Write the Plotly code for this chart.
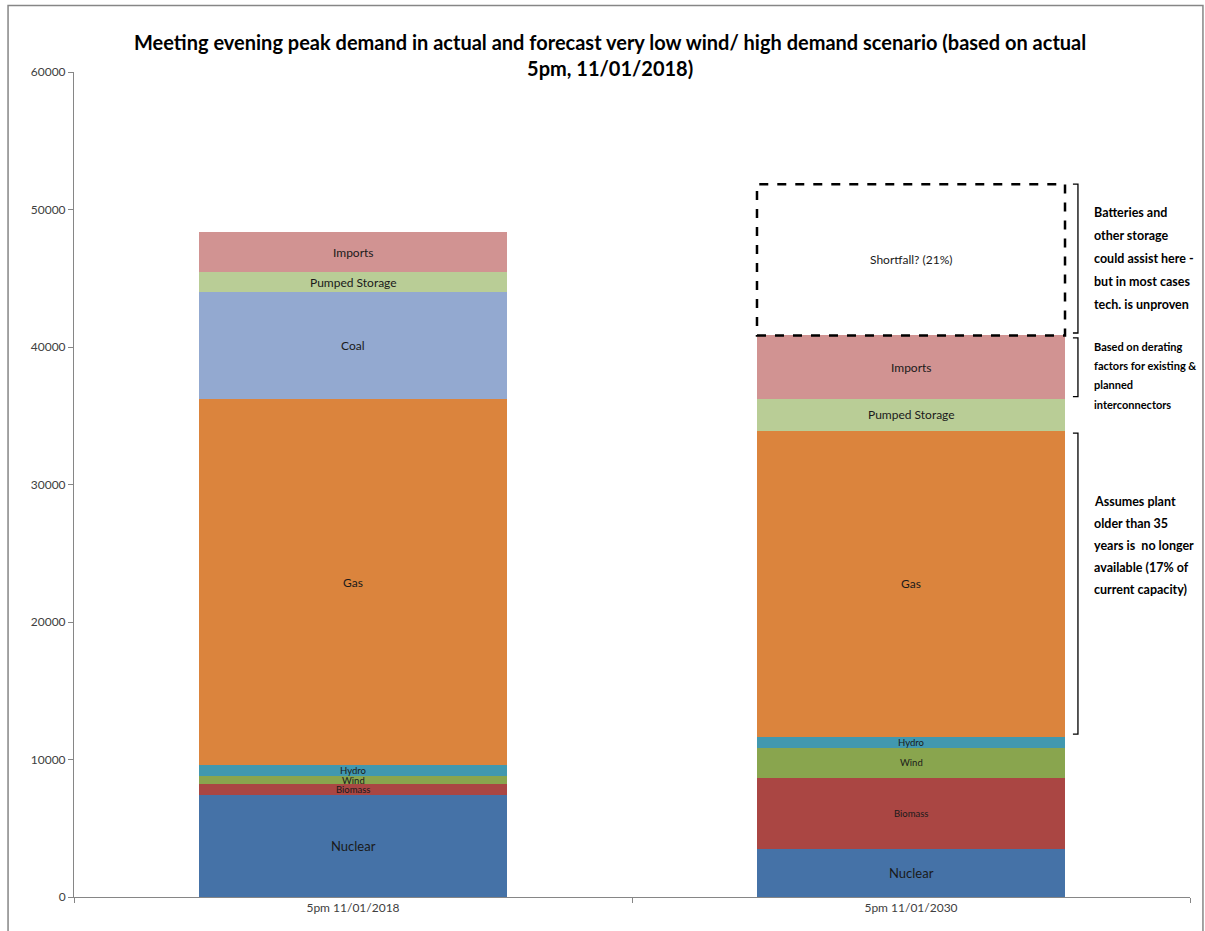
import plotly.graph_objects as go

# Peak-demand generation mix, MW
categories = ["5pm 11/01/2018", "5pm 11/01/2030"]
nuclear = [7400, 3470]
biomass = [800, 5190]
wind = [600, 2200]
hydro = [800, 800]
gas = [26600, 22250]
coal = [7800, 0]
pumped_storage = [1450, 2300]
imports = [2900, 4630]
shortfall = [0, 11000]

series = [
    ("Nuclear", nuclear, "#4572A7", 13),
    ("Biomass", biomass, "#AA4643", 9.5),
    ("Wind", wind, "#89A54E", 9.5),
    ("Hydro", hydro, "#4198AF", 9.5),
    ("Gas", gas, "#DB843D", 12),
    ("Coal", coal, "#93A9D0", 12),
    ("Pumped Storage", pumped_storage, "#B9CD96", 12),
    ("Imports", imports, "#D19392", 12),
    ("Shortfall? (21%)", shortfall, "rgba(255,255,255,0)", 12),
]

FONT = "Lato, DejaVu Sans Condensed, sans-serif"
BARGAP = 0.448
Y_MAX = 60000
PLOT_H = 825  # plot-area height in px, used to space note lines

fig = go.Figure()
annotations = []
base = [0.0] * len(categories)
seg_bounds = {}
for name, vals, color, fsize in series:
    fig.add_trace(go.Bar(
        x=categories, y=vals, name=name,
        marker=dict(color=color, line=dict(width=0)),
        hoverinfo="skip",
    ))
    for i, v in enumerate(vals):
        if v > 0:
            annotations.append(dict(
                x=categories[i], y=base[i] + v / 2, xref="x", yref="y",
                text=name, showarrow=False,
                font=dict(family=FONT, size=fsize, color="#1a1a1a"),
            ))
        seg_bounds[(name, i)] = (base[i], base[i] + v)
        base[i] += v

# Dashed outline around the 2030 shortfall segment
half = (1 - BARGAP) / 2
s0, s1 = seg_bounds[("Shortfall? (21%)", 1)]
shapes = [dict(type="rect", xref="x", yref="y", x0=1 - half, x1=1 + half,
               y0=s0, y1=s1, line=dict(color="black", width=2.5, dash="dash"),
               fillcolor="rgba(0,0,0,0)")]

# Right-hand brackets with explanatory notes
bx, tick = 0.8996, 0.0045
inset = 180
for seg in ["Shortfall? (21%)", "Imports", "Gas"]:
    lo, hi = seg_bounds[(seg, 1)]
    lo += inset
    hi -= inset if seg != "Shortfall? (21%)" else 0
    shapes.append(dict(
        type="path", xref="paper", yref="y",
        path=f"M {bx - tick},{hi} L {bx},{hi} L {bx},{lo} L {bx - tick},{lo}",
        line=dict(color="black", width=1.3),
    ))

notes = [
    (["Batteries and", "other storage", "could assist here -", "but in most cases", "tech. is unproven"],
     46470, 23, 12.5),
    (["Based on derating", "factors for existing &", "planned", "interconnectors"],
     37960, 19.3, 11),
    (["Assumes plant", "older than 35", "years is  no longer", "available (17% of", "current capacity)"],
     25600, 22, 12.5),
]
for lines, center, gap_px, fs in notes:
    step = gap_px / PLOT_H * Y_MAX
    n = len(lines)
    for k, line in enumerate(lines):
        annotations.append(dict(
            x=0.9122, y=center + ((n - 1) / 2 - k) * step, xref="paper", yref="y",
            xanchor="left", yanchor="middle", align="left",
            text=f"<b>{line}</b>", showarrow=False,
            font=dict(family=FONT, size=fs, color="black"),
        ))

annotations.append(dict(
    x=0.4803, y=1.0206, xref="paper", yref="paper", xanchor="center", yanchor="middle",
    text="<b>Meeting evening peak demand in actual and forecast very low wind/ high demand scenario (based on actual<br>5pm, 11/01/2018)</b>",
    showarrow=False, font=dict(family=FONT, size=20, color="black"),
))

# Outer chart frame
shapes.append(dict(type="rect", xref="paper", yref="paper",
                   x0=-0.0591, x1=1.0116, y0=-0.05, y1=1.0806,
                   line=dict(color="#868686", width=1.5), layer="below"))

fig.update_layout(
    barmode="stack", bargap=BARGAP,
    width=1205, height=931,
    margin=dict(l=74, r=15, t=72, b=34),
    paper_bgcolor="white", plot_bgcolor="white",
    showlegend=False, hovermode=False,
    annotations=annotations, shapes=shapes,
    font=dict(family=FONT, color="#404040"),
    xaxis=dict(
        type="category", range=[-0.5, 1.5],
        showline=True, linecolor="#868686", linewidth=1,
        ticks="outside", tickson="boundaries", ticklen=5, tickcolor="#868686",
        tickfont=dict(family=FONT, size=12, color="#404040"),
        showgrid=False, zeroline=False,
    ),
    yaxis=dict(
        range=[0, Y_MAX], tickvals=[0, 10000, 20000, 30000, 40000, 50000, 60000],
        ticktext=["0", "10000", "20000", "30000", "40000", "50000", "60000"],
        showline=True, linecolor="#868686", linewidth=1,
        ticks="outside", ticklen=5, tickcolor="#868686",
        tickfont=dict(family=FONT, size=12, color="#404040"),
        showgrid=False, zeroline=False,
    ),
)

fig.write_html("out.html")
